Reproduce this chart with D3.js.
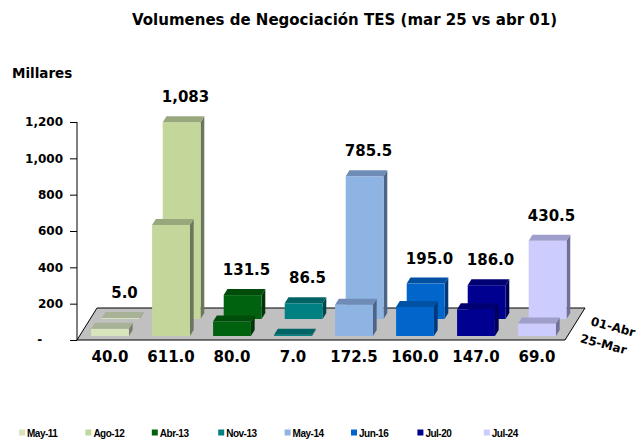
<!DOCTYPE html>
<html>
<head>
<meta charset="utf-8">
<script src="https://cdnjs.cloudflare.com/ajax/libs/d3/7.8.5/d3.min.js"></script>
<style>
body { margin:0; background:#fff; }
text { font-family:"DejaVu Sans", Verdana, sans-serif; font-weight:bold; fill:#000; }
.legenteks { font-family:"Liberation Sans", Arial, sans-serif; letter-spacing:-0.5px; }
</style>
</head>
<body>
<div id="Container"></div>
<script>
var categorias = ["May-11","Ago-12","Abr-13","Nov-13","May-14","Jun-16","Jul-20","Jul-24"];
var mar25 = [40.0, 611.0, 80.0, 7.0, 172.5, 160.0, 147.0, 69.0];
var abr01 = [5.0, 1083, 131.5, 86.5, 785.5, 195.0, 186.0, 430.5];
var series = ["25-Mar","01-Abr"];
var ticksY = [0, 200, 400, 600, 800, 1000, 1200];
var judul = "Volumenes de Negociación TES (mar 25 vs abr 01)";

var warna = d3.scaleOrdinal()
    .domain(categorias)
    .range(["#D8E4BC","#C4D79B","#00620E","#008080","#8EB4E3","#0066CC","#000090","#CCCCFF"]);

var w = 638, h = 439
    canvas = d3.select("#Container").append("svg")
        .attr("width", w)
        .attr("height", h)

// proyeccion 3D: profundidad d -> desplazamiento (d*kx, -d)
var kx = 0.625;
var fondo = 32;                       // profundidad del piso
var filas = { "25-Mar": [4, 10], "01-Abr": [21, 27] };
function P(x, y, d) { return [x + d*kx, y - d]; }

var x = d3.scaleBand()
    .domain(categorias)
    .range([77, 565])
    .paddingInner(0.38)
    .paddingOuter(0.19);

var y = d3.scaleLinear()
    .domain([0, 1200])
    .range([340, 122]);

var fmt = function(v) { return v >= 1000 ? d3.format(",.0f")(v) : d3.format(".1f")(v); };

// titulo
canvas.append("text")
    .attr("x", 344.5)
    .attr("y", 24.5)
    .attr("text-anchor", "middle")
    .attr("font-size", 15)
    .text(judul);

canvas.append("text")
    .attr("x", 12)
    .attr("y", 78)
    .attr("font-size", 13.5)
    .text("Millares");

// piso
var x0 = x.range()[0], x1 = x.range()[1];
canvas.append("polygon")
    .attr("points", [P(x0, y(0), 0), P(x1, y(0), 0), P(x1, y(0), fondo), P(x0, y(0), fondo)].join(" "))
    .attr("fill", "#C0C0C0")
    .attr("stroke", "#000")
    .attr("stroke-width", 1);

// eje y
var yax = canvas.append("g")
    .attr("class", "yax")
    .attr("transform", "translate(" + x0 + ",0)")
    .call(d3.axisLeft(y).tickValues(ticksY).tickSize(7).tickPadding(7)
        .tickFormat(function(d) { return d == 0 ? "-\u00a0\u00a0\u00a0\u00a0\u00a0" : d3.format(",")(d); }));
yax.select(".domain").attr("d", "M0," + y(0) + "V" + y(1200)).attr("stroke", "#000");
yax.selectAll("text").attr("font-size", 12).attr("font-family", "DejaVu Sans").attr("font-weight", "bold");

function barra(g, cat, v, fila) {
    var bx = x(cat), bw = x.bandwidth();
    var d0 = filas[fila][0], d1 = filas[fila][1];
    var hy = y(v);
    var c = d3.rgb(warna(cat));
    var atas = d3.rgb(c.r*0.78, c.g*0.78, c.b*0.8);
    var sisi = d3.rgb(c.r*0.55, c.g*0.55, c.b*0.6);
    // lado derecho
    g.append("polygon")
        .attr("points", [P(bx+bw, y(0), d0), P(bx+bw, hy, d0), P(bx+bw, hy, d1), P(bx+bw, y(0), d1)].join(" "))
        .attr("fill", sisi);
    // cara frontal
    var f0 = P(bx, hy, d0);
    g.append("rect")
        .attr("x", f0[0])
        .attr("y", f0[1])
        .attr("width", bw)
        .attr("height", y(0) - hy)
        .attr("fill", c);
    // tapa
    g.append("polygon")
        .attr("points", [P(bx, hy, d0), P(bx+bw, hy, d0), P(bx+bw, hy, d1), P(bx, hy, d1)].join(" "))
        .attr("fill", atas);
}

var gb = canvas.append("g");
categorias.forEach(function(c, i) { barra(gb, c, abr01[i], "01-Abr"); });
var gf = canvas.append("g");
categorias.forEach(function(c, i) { barra(gf, c, mar25[i], "25-Mar"); });

// etiquetas fila de atras
canvas.selectAll("lblAbr").data(categorias)
    .enter()
    .append("text")
        .attr("x", function(d) { return x(d) + x.bandwidth()/2 + 24*kx + 2; })
        .attr("y", function(d, i) { return y(abr01[i]) - filas["01-Abr"][1] - 14; })
        .attr("text-anchor", "middle")
        .attr("font-size", 15)
        .text(function(d, i) { return fmt(abr01[i]); });

// etiquetas fila frontal
canvas.selectAll("lblMar").data(categorias)
    .enter()
    .append("text")
        .attr("x", function(d) { return x(d) + x.bandwidth()/2 + 4*kx; })
        .attr("y", 362)
        .attr("text-anchor", "middle")
        .attr("font-size", 15)
        .text(function(d, i) { return fmt(mar25[i]); });

// nombres de series
series.forEach(function(s) {
    var dm = (filas[s][0] + filas[s][1]) / 2;
    var p = P(x1, y(0), dm);
    canvas.append("text")
        .attr("transform", "translate(" + (p[0] + 10) + "," + (p[1] + 9) + ")rotate(15)")
        .attr("font-size", 12)
        .text(s);
});

// leyenda
canvas.selectAll("legen").data(categorias)
    .enter()
    .append("rect")
        .attr("x", function(d, i) { return 19 + i*66.4; })
        .attr("y", 429.5)
        .attr("width", 6)
        .attr("height", 6)
        .attr("fill", function(d) { return warna(d); });

canvas.selectAll("legenteks").data(categorias)
    .enter()
    .append("text")
        .attr("class", "legenteks")
        .attr("x", function(d, i) { return 27 + i*66.4; })
        .attr("y", 436.5)
        .attr("font-size", 10)
        .text(function(d) { return d; });
</script>
</body>
</html>
